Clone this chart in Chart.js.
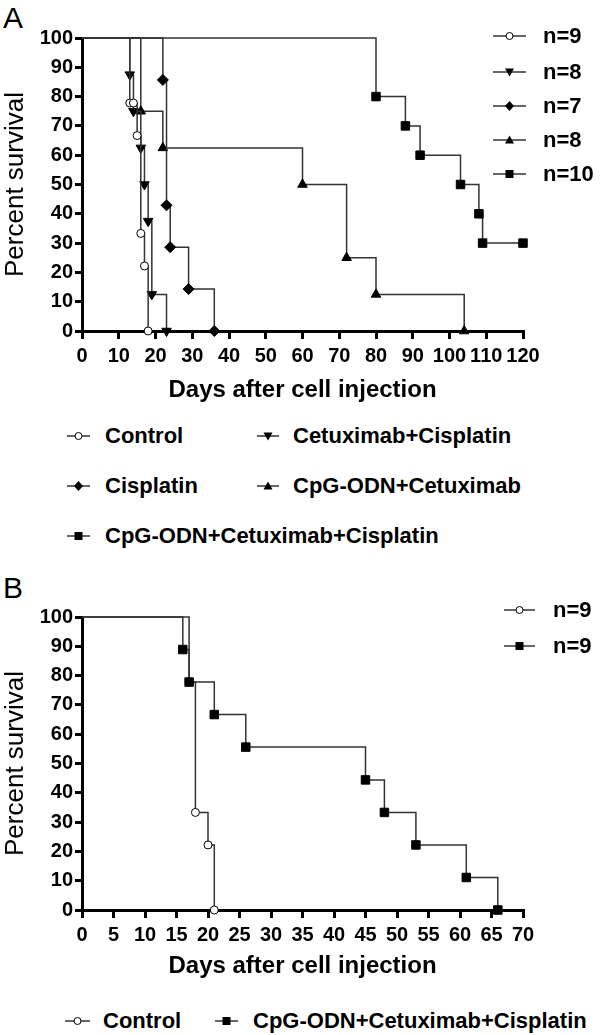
<!DOCTYPE html>
<html>
<head>
<meta charset="utf-8">
<script src="https://cdn.jsdelivr.net/npm/chart.js@4.4.0/dist/chart.umd.min.js"></script>
<style>
  body { margin: 0; background: #fff; width: 600px; height: 1035px; position: relative; overflow: hidden; font-family: "Liberation Sans", Arial, sans-serif; color: #000; }
  .painel { position: absolute; left: 0; width: 600px; }
  .letra { position: absolute; left: 3px; font-size: 30px; line-height: 30px; }
  .leg { position: absolute; display: flex; align-items: center; height: 26px; font-weight: bold; font-size: 22px; white-space: nowrap; }
  .leg svg { display: block; }
</style>
</head>
<body>
<div class="letra" style="top:3px">A</div>
<div class="painel" style="top:0;height:406px"><canvas id="chartA" width="600" height="406"></canvas></div>
<div class="letra" style="top:573px">B</div>
<div class="painel" style="top:560px;height:422px"><canvas id="chartB" width="600" height="422"></canvas></div>
<div id="legendas"></div>

<script>
// ---- panel A data (days / percent survival) ----
const controlA_days = [0, 13, 14, 15, 16, 17, 18];
const controlA_surv = [100, 77.8, 77.8, 66.7, 33.3, 22.2, 0];
const cetuxCisA_days = [0, 13, 14, 16, 17, 18, 19, 23];
const cetuxCisA_surv = [100, 87.5, 75, 62.5, 50, 37.5, 12.5, 0];
const cisplatinA_days = [0, 22, 23, 24, 29, 36];
const cisplatinA_surv = [100, 85.7, 42.9, 28.6, 14.3, 0];
const cpgCetuxA_days = [0, 16, 22, 60, 72, 80, 104];
const cpgCetuxA_surv = [100, 75, 62.5, 50, 25, 12.5, 0];
const tripleA_days = [0, 80, 88, 92, 103, 108, 109, 120];
const tripleA_surv = [100, 80, 70, 60, 50, 40, 30, 30];

// ---- panel B data ----
const controlB_days = [0, 17, 18, 20, 21];
const controlB_surv = [100, 77.8, 33.3, 22.2, 0];
const tripleB_days = [0, 16, 17, 21, 26, 45, 48, 53, 61, 66];
const tripleB_surv = [100, 88.9, 77.8, 66.7, 55.6, 44.4, 33.3, 22.2, 11.1, 0];

const labelsA = ['Control', 'Cetuximab+Cisplatin', 'Cisplatin', 'CpG-ODN+Cetuximab', 'CpG-ODN+Cetuximab+Cisplatin'];
const nA = ['n=9', 'n=8', 'n=7', 'n=8', 'n=10'];
const labelsB = ['Control', 'CpG-ODN+Cetuximab+Cisplatin'];
const nB = ['n=9', 'n=9'];

const FONT = '"Liberation Sans", Arial, sans-serif';

function pontos(days, surv) {
  return days.map((d, i) => ({ x: d, y: surv[i] }));
}

function serie(days, surv, estilo, order) {
  const raio = { circle: 4, triangle: 5.5, down: 5.5, rectRot: 5.5, rect: 6 }[estilo];
  return {
    data: pontos(days, surv),
    stepped: true,
    borderColor: '#333',
    borderWidth: 1.5,
    pointStyle: estilo === 'down' ? 'triangle' : estilo,
    rotation: estilo === 'down' ? 180 : 0,
    pointRadius: days.map((d, i) => i === 0 ? 0 : raio),
    pointBackgroundColor: estilo === 'circle' ? '#fff' : '#000',
    pointBorderColor: '#000',
    pointBorderWidth: 1,
    clip: false,
    order: order || 0
  };
}

function opcoes(xMax, xStep, padTop, xAltura) {
  return {
    responsive: false,
    animation: false,
    events: [],
    layout: { padding: { top: padTop, right: 77, left: 0, bottom: 0 } },
    plugins: { legend: { display: false }, tooltip: { enabled: false } },
    scales: {
      x: {
        type: 'linear',
        min: 0,
        max: xMax,
        ticks: { stepSize: xStep, autoSkip: false, maxRotation: 0, color: '#000', padding: 5, font: { family: FONT, size: 20, weight: 'bold' } },
        grid: { display: true, drawOnChartArea: false, drawTicks: true, tickLength: 8, lineWidth: 3, color: '#000' },
        border: { display: true, color: '#000', width: 3 },
        title: { display: true, text: 'Days after cell injection', color: '#000', font: { family: FONT, size: 24, weight: 'bold' }, padding: { top: 0, bottom: 1 } },
        afterFit: s => { s.height = xAltura; }
      },
      y: {
        min: 0,
        max: 100,
        ticks: { stepSize: 10, color: '#000', padding: 2, font: { family: FONT, size: 20, weight: 'bold' } },
        grid: { display: true, drawOnChartArea: false, drawTicks: true, tickLength: 7, lineWidth: 3, color: '#000' },
        border: { display: true, color: '#000', width: 3 },
        title: { display: true, text: 'Percent survival', color: '#000', font: { family: FONT, size: 26 }, padding: { top: 0, bottom: 0 } },
        afterFit: s => { s.width = 82; }
      }
    }
  };
}

function marcador(estilo, cx, cy) {
  switch (estilo) {
    case 'circle': return `<circle cx="${cx}" cy="${cy}" r="3.5" fill="#fff" stroke="#000" stroke-width="1"/>`;
    case 'down': return `<polygon points="${cx - 4.5},${cy - 3.5} ${cx + 4.5},${cy - 3.5} ${cx},${cy + 4.5}" fill="#000"/>`;
    case 'rectRot': return `<polygon points="${cx},${cy - 5} ${cx + 4.5},${cy} ${cx},${cy + 5} ${cx - 4.5},${cy}" fill="#000"/>`;
    case 'triangle': return `<polygon points="${cx - 4.5},${cy + 3.5} ${cx + 4.5},${cy + 3.5} ${cx},${cy - 4.5}" fill="#000"/>`;
    case 'rect': return `<rect x="${cx - 4}" y="${cy - 4}" width="8" height="8" fill="#000"/>`;
  }
  return '';
}

// legend item: line from x0 to x1, text starting at tx, centered on y
function itemLegenda(estilo, texto, x0, x1, tx, y) {
  const w = tx - x0;
  const len = x1 - x0;
  const div = document.createElement('div');
  div.className = 'leg';
  div.style.left = x0 + 'px';
  div.style.top = (y - 13) + 'px';
  div.innerHTML = `<svg width="${w}" height="26"><line x1="0" y1="13" x2="${len}" y2="13" stroke="#333" stroke-width="1.5"/>${marcador(estilo, len / 2, 13)}</svg><span>${texto}</span>`;
  document.getElementById('legendas').appendChild(div);
}

function init() {
  const estilosA = ['circle', 'down', 'rectRot', 'triangle', 'rect'];

  new Chart(document.getElementById('chartA'), {
    type: 'line',
    data: {
      datasets: [
        serie(controlA_days, controlA_surv, 'circle'),
        serie(cetuxCisA_days, cetuxCisA_surv, 'down'),
        serie(cisplatinA_days, cisplatinA_surv, 'rectRot'),
        serie(cpgCetuxA_days, cpgCetuxA_surv, 'triangle'),
        serie(tripleA_days, tripleA_surv, 'rect')
      ]
    },
    options: opcoes(120, 10, 38, 75)
  });

  new Chart(document.getElementById('chartB'), {
    type: 'line',
    data: {
      datasets: [
        serie(controlB_days, controlB_surv, 'circle', 1),
        serie(tripleB_days, tripleB_surv, 'rect', 0)
      ]
    },
    options: opcoes(70, 5, 57, 72)
  });

  // right-hand legends (n=...)
  const yRight = [36, 72, 106, 140, 174];
  nA.forEach((t, i) => itemLegenda(estilosA[i], t, 493, 526, 543, yRight[i]));
  itemLegenda('circle', nB[0], 504, 535, 553, 610);
  itemLegenda('rect', nB[1], 504, 535, 553, 646);

  // bottom legends
  itemLegenda('circle', labelsA[0], 67, 90, 105, 436);
  itemLegenda('down', labelsA[1], 257, 279, 293, 436);
  itemLegenda('rectRot', labelsA[2], 67, 90, 105, 486);
  itemLegenda('triangle', labelsA[3], 257, 279, 293, 486);
  itemLegenda('rect', labelsA[4], 67, 90, 105, 536);
  itemLegenda('circle', labelsB[0], 65, 90, 103, 1021);
  itemLegenda('rect', labelsB[1], 215, 238, 253, 1021);
}

if (document.readyState === 'loading') {
  document.addEventListener('DOMContentLoaded', init);
} else {
  init();
}
</script>
</body>
</html>
